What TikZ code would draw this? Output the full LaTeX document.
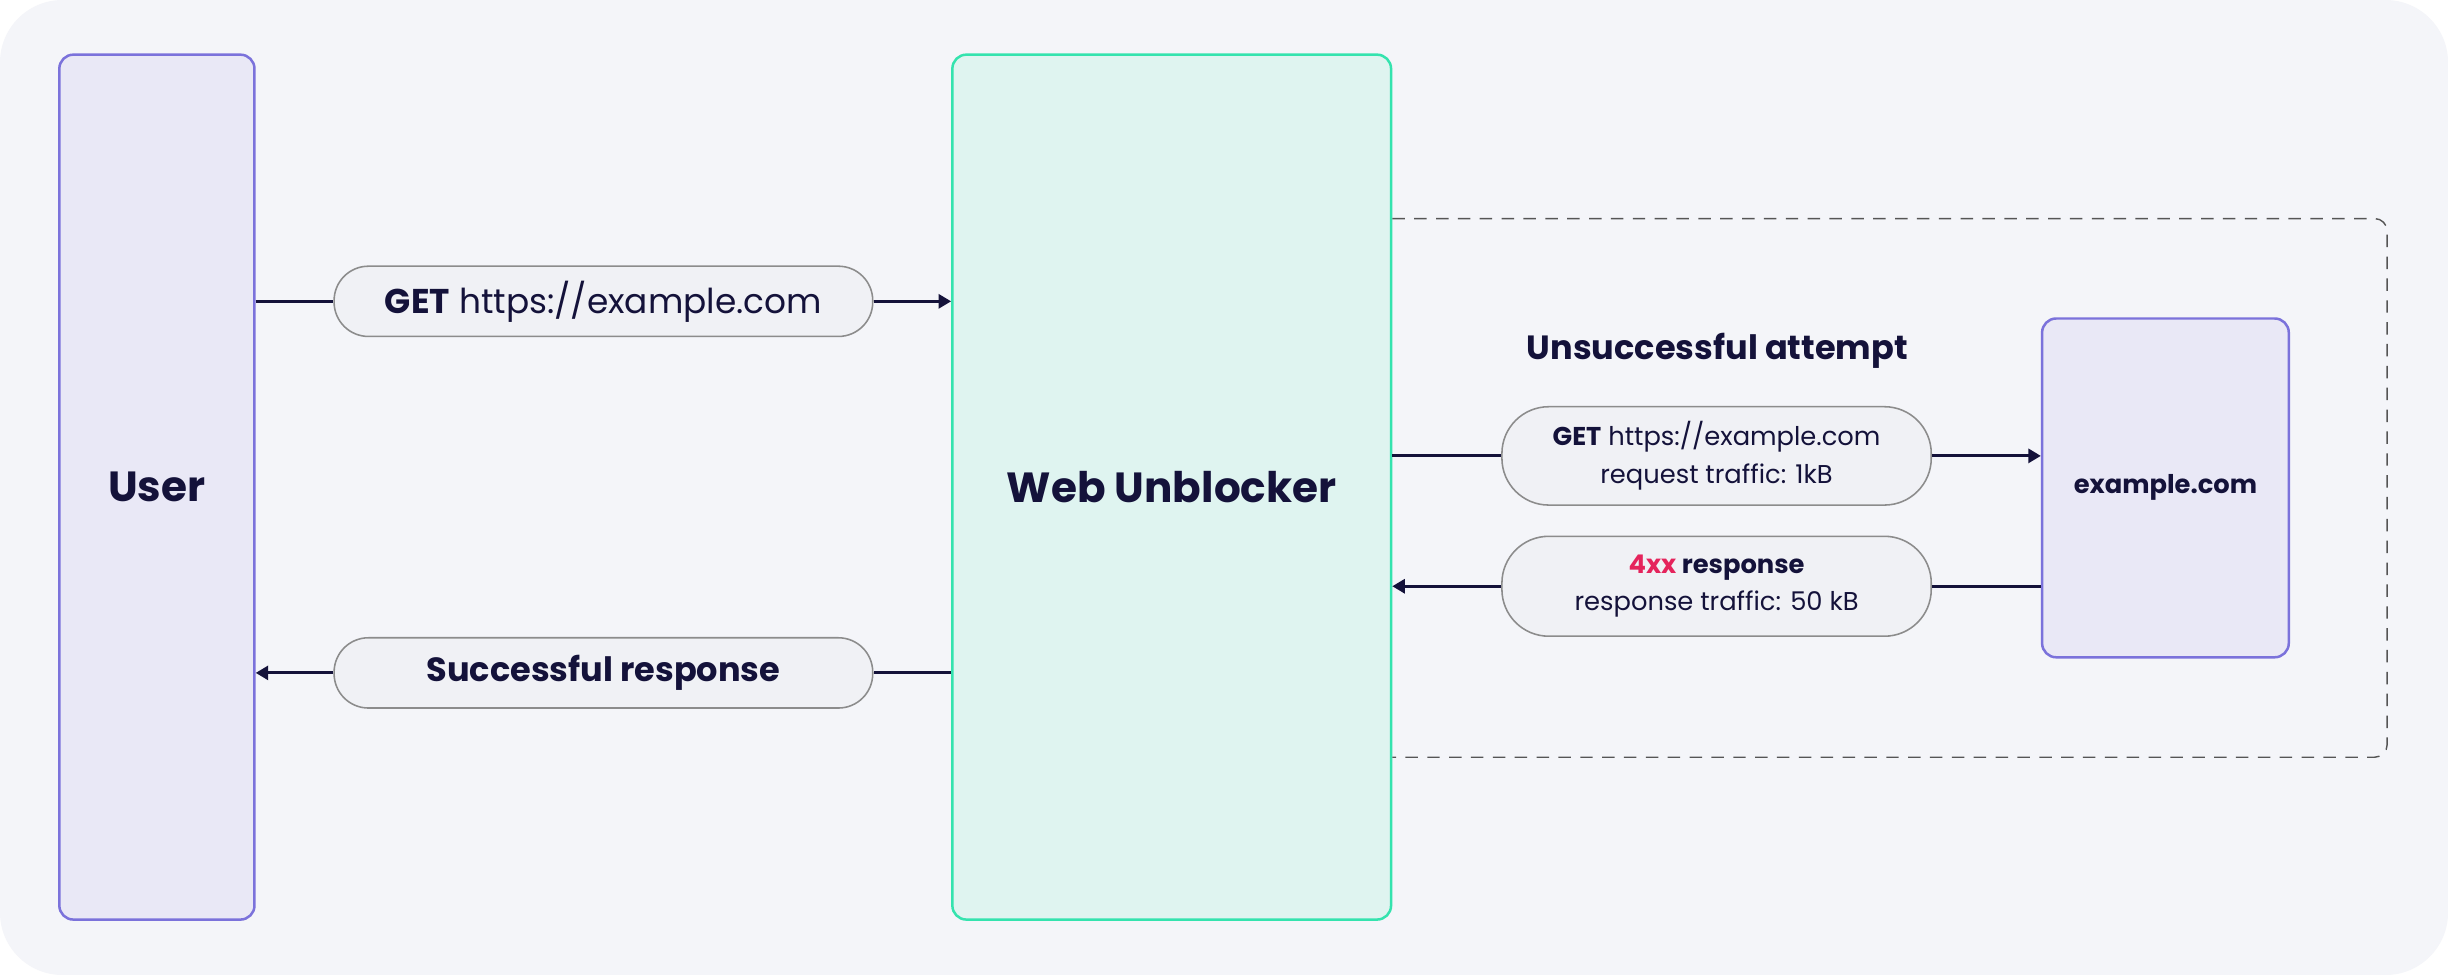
\documentclass[tikz,border=0pt]{standalone}
\usepackage{fontspec}
\setmainfont{Poppins}
\usetikzlibrary{arrows.meta,calc}
\definecolor{bgc}{HTML}{F4F5F9}
\definecolor{userfill}{HTML}{E9E8F6}
\definecolor{userdraw}{HTML}{7B72DB}
\definecolor{wufill}{HTML}{DFF4F0}
\definecolor{wudraw}{HTML}{34E3AE}
\definecolor{pillfill}{HTML}{F0F1F5}
\definecolor{pilldraw}{HTML}{8C8C8C}
\definecolor{ink}{HTML}{14123A}
\definecolor{dashc}{HTML}{555555}
\definecolor{errc}{HTML}{E5245C}
\tikzset{
  box/.style={draw, rounded corners=9pt, line width=1.6pt, inner sep=0pt, text=ink, font=\bfseries\fontsize{27}{32}\selectfont},
  userbox/.style={box, fill=userfill, draw=userdraw},
  wubox/.style={box, fill=wufill, draw=wudraw},
  pill/.style={draw=pilldraw, fill=pillfill, line width=1pt, rounded corners=22pt, inner sep=0pt, text=ink, align=center},
  conn/.style={draw=ink, line width=1.8pt},
  arr/.style={conn, -{Triangle[length=8pt,width=9pt]}},
}
\begin{document}
\begin{tikzpicture}[x=1pt,y=-1pt]
\useasboundingbox (0,0) rectangle (1568,624.5);
\fill[white] (0,0) rectangle (1568,624.5);
\fill[bgc, rounded corners=40pt] (0,0) rectangle (1568,624.5);
% boxes
\node[userbox, minimum width=125pt, minimum height=554pt] (user) at (100.5,312) {User};
\node[wubox, minimum width=281pt, minimum height=554pt] (wu) at (750.5,312) {Web Unblocker};
\node[userbox, minimum width=158pt, minimum height=217pt, font=\bfseries\fontsize{16.5}{20}\selectfont] (ex) at (1387,312.5) {example.com};
% dashed region
\coordinate (dtl) at (wu.east |- 0,140);
\coordinate (dbl) at (wu.east |- 0,485);
\draw[dashc, line width=0.9pt, dash pattern=on 8pt off 6pt, rounded corners=8pt] (dtl) -- (1529,140) -- (1529,485) -- (dbl);
\node[text=ink, font=\bfseries\fontsize{21.5}{25}\selectfont] (title) at (1100,225) {Unsuccessful attempt};
% pills
\node[pill, minimum width=345pt, minimum height=45pt, font=\fontsize{22}{26}\selectfont] (get) at (386.5,193) {\textbf{GET} https://example.com};
\node[pill, minimum width=345pt, minimum height=45pt, font=\bfseries\fontsize{21.5}{26}\selectfont] (succ) at (386.5,431) {Successful response};
\node[pill, minimum width=275pt, minimum height=63pt, rounded corners=30pt, font=\fontsize{16.5}{24}\selectfont] (req) at (1099.5,292) {\textbf{GET} https://example.com\\request traffic: 1kB};
\node[pill, minimum width=275pt, minimum height=64pt, rounded corners=30pt, font=\fontsize{16.5}{24}\selectfont] (resp) at (1099.5,375.5) {\textbf{\textcolor{errc}{4xx} response}\\response traffic: 50 kB};
% connectors
\draw[conn] (get.west -| user.east) -- (get.west);
\draw[arr] (get.east) -- (get.east -| wu.west);
\draw[conn] (succ.east -| wu.west) -- (succ.east);
\draw[arr] (succ.west) -- (succ.west -| user.east);
\draw[conn] (req.west -| wu.east) -- (req.west);
\draw[arr] (req.east) -- (req.east -| ex.west);
\draw[conn] (resp.east -| ex.west) -- (resp.east);
\draw[arr] (resp.west) -- (resp.west -| wu.east);
\end{tikzpicture}
\end{document}
